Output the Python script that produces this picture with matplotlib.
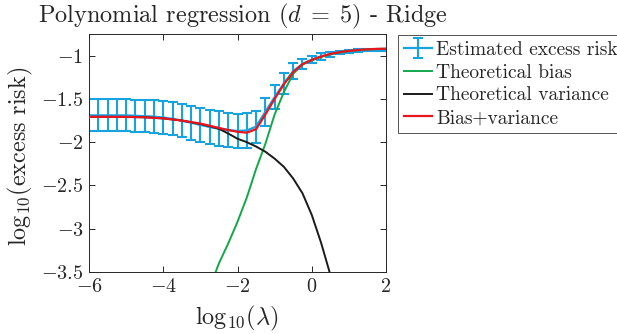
import numpy as np
import matplotlib
matplotlib.use("Agg")
import matplotlib.pyplot as plt
from matplotlib.ticker import FixedLocator, FixedFormatter

plt.rcParams['font.family'] = ['cmr10', 'DejaVu Serif']
plt.rcParams['mathtext.fontset'] = 'cm'
plt.rcParams['axes.unicode_minus'] = True
plt.rcParams['axes.formatter.use_mathtext'] = True

# ---- data ----
log_lambda = [-6.0, -5.75, -5.5, -5.25, -5.0, -4.75, -4.5, -4.25, -4.0, -3.75, -3.5,
              -3.25, -3.0, -2.75, -2.5, -2.25, -2.0, -1.75, -1.5, -1.25, -1.0,
              -0.75, -0.5, -0.25, 0.0, 0.25, 0.5, 0.75, 1.0, 1.25, 1.5, 1.75, 2.0]
est_mean = [-1.69, -1.69, -1.69, -1.69, -1.69, -1.695, -1.70, -1.705, -1.715, -1.73, -1.75,
            -1.775, -1.80, -1.825, -1.845, -1.86, -1.87, -1.865, -1.82, -1.65, -1.48,
            -1.32, -1.18, -1.095, -1.045, -1.01, -0.985, -0.965, -0.95, -0.94, -0.935, -0.93, -0.93]
est_err = [0.185, 0.185, 0.185, 0.185, 0.185, 0.185, 0.187, 0.19, 0.19, 0.192, 0.195,
           0.197, 0.198, 0.2, 0.2, 0.2, 0.2, 0.2, 0.185, 0.16, 0.14,
           0.12, 0.09, 0.06, 0.045, 0.035, 0.025, 0.02, 0.015, 0.015, 0.012, 0.012, 0.012]

sum_x = [-6.0, -5.0, -4.5, -4.0, -3.5, -3.0, -2.75, -2.5, -2.25, -2.0, -1.75, -1.5,
         -1.25, -1.0, -0.75, -0.5, -0.25, 0.0, 0.25, 0.5, 0.75, 1.0, 1.25, 1.5, 1.75, 2.0]
sum_y = [-1.707, -1.708, -1.712, -1.725, -1.75, -1.785, -1.81, -1.835, -1.86, -1.88, -1.89, -1.85,
         -1.68, -1.50, -1.33, -1.19, -1.10, -1.05, -1.01, -0.98, -0.96, -0.945, -0.935, -0.927, -0.922, -0.92]

bias_x = [-2.75, -2.5, -2.25, -2.0, -1.75, -1.5, -1.25, -1.0, -0.75, -0.5, -0.25,
          0.0, 0.25, 0.5, 0.75, 1.0, 1.25, 1.5, 1.75, 2.0]
bias_y = [-3.68, -3.40, -3.17, -2.92, -2.64, -2.31, -2.02, -1.68, -1.42, -1.21, -1.10,
          -1.055, -1.015, -0.985, -0.963, -0.947, -0.936, -0.928, -0.923, -0.92]

var_x = [-6.0, -5.0, -4.5, -4.0, -3.5, -3.0, -2.75, -2.5, -2.25, -2.0, -1.75, -1.5,
         -1.25, -1.0, -0.75, -0.5, -0.25, 0.0, 0.25, 0.5, 0.6]
var_y = [-1.707, -1.708, -1.712, -1.725, -1.75, -1.79, -1.815, -1.845, -1.90, -1.96, -2.0, -2.05,
         -2.11, -2.19, -2.285, -2.42, -2.59, -2.84, -3.16, -3.53, -3.7]

x_ticks = [-6, -4, -2, 0, 2]
y_ticks = [-3.5, -3, -2.5, -2, -1.5, -1]
y_tick_labels = ['$-3.5$', '$-3$', '$-2.5$', '$-2$', '$-1.5$', '$-1$']
x_tick_labels = ['$-6$', '$-4$', '$-2$', '$0$', '$2$']

c_blue = '#17a2e0'
c_green = '#12a84a'
c_black = '#1a1a1a'
c_red = '#e8151f'

fig = plt.figure(figsize=(6.17, 3.34), dpi=100)
ax = fig.add_axes([89/617, 62/334, 297/617, 238/334])

h1 = ax.errorbar(log_lambda, est_mean, yerr=est_err, color=c_blue, lw=1.6,
                 elinewidth=1.5, capsize=3.4, capthick=1.5, label='Estimated excess risk', zorder=2)
h2, = ax.plot(bias_x, bias_y, color=c_green, lw=1.4, label='Theoretical bias', zorder=3)
h3, = ax.plot(var_x, var_y, color=c_black, lw=1.4, label='Theoretical variance', zorder=3)
h4, = ax.plot(sum_x, sum_y, color=c_red, lw=1.6, label='Bias+variance', zorder=4)

ax.set_xlim(-6, 2)
ax.set_ylim(-3.5, -0.75)
ax.xaxis.set_major_locator(FixedLocator(x_ticks))
ax.xaxis.set_major_formatter(FixedFormatter(x_tick_labels))
ax.yaxis.set_major_locator(FixedLocator(y_ticks))
ax.yaxis.set_major_formatter(FixedFormatter(y_tick_labels))
ax.tick_params(direction='in', top=True, right=True, length=4, width=0.7,
               labelsize=14.5, color='#262626', labelcolor='#262626', pad=4)
for s in ax.spines.values():
    s.set_color('#262626')
    s.set_linewidth(0.7)

fig.text(237/617, 1 - 324/334, r'$\mathrm{log}_{10}(\lambda)$', fontsize=17.5,
         color='#262626', ha='center', va='baseline')
fig.text(20/617, 1 - 156/334, r'$\mathrm{log}_{10}(\mathrm{excess\ risk})$', fontsize=17.5,
         color='#262626', ha='center', va='center', rotation=90)

fig.text(38/617, 1 - 22/334, r'Polynomial regression ($d \;=\; 5$) - Ridge',
         fontsize=17.5, color='#262626', ha='left', va='baseline')

leg = ax.legend(handles=[h1, h2, h3, h4], loc='upper left',
                bbox_to_anchor=(398/617, 1 - 35/334), bbox_transform=fig.transFigure,
                fontsize=14, frameon=True, fancybox=False, edgecolor='#262626',
                handlelength=1.45, handletextpad=0.2, borderpad=0.3, labelspacing=0.25,
                borderaxespad=0.0)
leg.get_frame().set_linewidth(0.7)
for t in leg.get_texts():
    t.set_color('#262626')

fig.savefig('out.png', dpi=100)
